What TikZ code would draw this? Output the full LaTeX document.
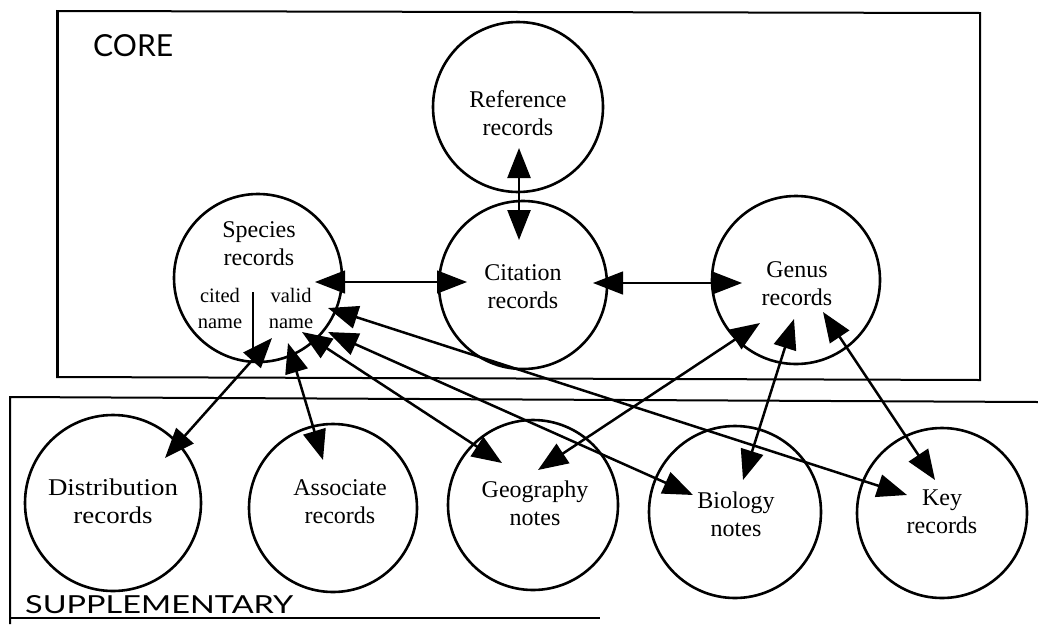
\documentclass[tikz,border=0pt]{standalone}
\usepackage{fontspec}
\setmainfont{Liberation Serif}
\newfontfamily\capfont{Lato}
\usetikzlibrary{arrows.meta,calc}
\newcommand\twol[2]{\begin{tabular}[t]{@{}c@{}}#1\\#2\end{tabular}}
\begin{document}
\begin{tikzpicture}[x=1pt,y=-1pt,
  rec/.style={circle,draw,line width=2.6pt,inner sep=0pt,minimum size=#1},
  rec/.default=170pt,
  txt/.style={anchor=base,inner sep=0pt,font=\fontsize{24}{28}\selectfont},
  smalltxt/.style={anchor=base,inner sep=0pt,font=\fontsize{20.5}{26}\selectfont},
  link/.style={line width=2.5pt,{Triangle[length=30pt,width=23pt]}-{Triangle[length=30pt,width=23pt]}},
  thinlink/.style={link,line width=1.4pt},
  frame/.style={line width=2pt},
  title/.style={anchor=base west,inner sep=0pt,font=\capfont}]
\useasboundingbox (0,0) rectangle (1038,627);
\fill[white] (0,0) rectangle (1038,627);

% frames
\draw[frame] (57,11) -- (980,13) -- (980,380) -- (57,377) -- cycle;
\draw[line width=3pt] (57,10) -- (57,378);
\draw[frame] (1038,402) -- (10,397) -- (10,624);
\draw[frame] (10,618) -- (600,618);

\node[title] (core) at (93,56) {\resizebox{80pt}{22pt}{CORE}};
\node[title] (supp) at (25,613) {\resizebox{268pt}{18pt}{SUPPLEMENTARY}};

% circles
\node[rec=170pt] (ref) at (518,107) {};
\node[rec=168pt] (cit) at (523,285) {};
\node[rec=168pt] (spe) at (258,278) {};
\node[rec=168pt] (gen) at (796,280) {};
\node[rec=176pt] (dis) at (113,503) {};
\node[rec=168pt] (ass) at (333,508) {};
\node[rec=170pt] (geo) at (533,505) {};
\node[rec=172pt] (bio) at (735,512) {};
\node[rec=170pt] (key) at (942,513) {};

% texts
\node[txt] (ref-t) at (518,107) {\twol{Reference}{records}};
\node[txt] (cit-t) at (523,280) {\twol{Citation}{records}};
\node[txt] (spe-t) at (259,237) {\twol{Species}{records}};
\node[smalltxt] (cited-t) at (220,302) {\twol{cited}{name}};
\node[smalltxt] (valid-t) at (291,302) {\twol{valid}{name}};
\node[txt] (gen-t) at (797,277) {\twol{Genus}{records}};
\node[txt] (dis-t) at (113,495) {\twol{\scalebox{1.12}[1]{Distribution}}{\scalebox{1.12}[1]{records}}};
\node[txt] (ass-t) at (340,495) {\twol{Associate}{records}};
\node[txt] (geo-t) at (535,497) {\twol{Geography}{notes}};
\node[txt] (bio-t) at (736,508) {\twol{Biology}{notes}};
\node[txt] (key-t) at (942,505) {\twol{Key}{records}};

% separator in species
\draw[line width=2pt] ($(spe)+(-5,14)$) -- ($(spe)+(-5,80)$);

% connectors
\draw[link] ($(ref)+(1,41)$) -- ($(cit)+(-4,-45)$);
\draw[thinlink] ($(spe)+(57,4)$) -- ($(cit)+(-56,-3)$);
\draw[thinlink] ($(cit)+(70,-2)$) -- ($(gen)+(-54,3)$);
\draw[link] ($(spe)+(14,60)$) -- ($(dis)+(52,-45)$);
\draw[link] ($(spe)+(30,65)$) -- ($(ass)+(-10,-48)$);
\draw[link] ($(spe)+(44,54)$) -- ($(geo)+(-31,-42)$);
\draw[link] ($(spe)+(70,54)$) -- ($(bio)+(-42,-17)$);
\draw[link] ($(spe)+(70,30)$) -- ($(key)+(-35,-18)$);
\draw[link] ($(gen)+(-36,43)$) -- ($(geo)+(5,-35)$);
\draw[link] ($(gen)+(-2,39)$) -- ($(bio)+(8,-32)$);
\draw[link] ($(gen)+(27,32)$) -- ($(key)+(-7,-33)$);
\end{tikzpicture}
\end{document}
